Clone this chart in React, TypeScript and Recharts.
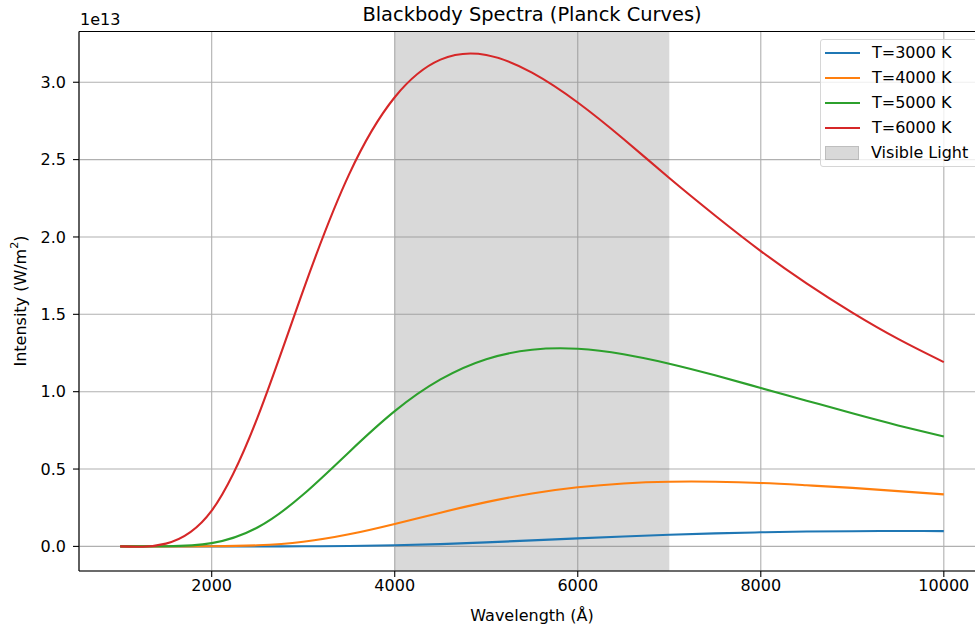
import { CartesianGrid, Label, Line, LineChart, ReferenceArea, ReferenceLine, XAxis, YAxis } from "recharts";

// wavelengths in Å, intensities in units of 1e13 W/m²
const wavelengths = [1000, 1500, 2000, 2500, 3000, 3500, 4000, 4500, 5000, 5500, 6000, 6500, 7000, 7500, 8000, 8500, 9000, 9500, 10000];
const t3000 = [0, 0, 0, 0, 0.0006, 0.0025, 0.0072, 0.015, 0.026, 0.039, 0.052, 0.064, 0.075, 0.084, 0.091, 0.096, 0.098, 0.0995, 0.099];
const t4000 = [0, 0, 0.0006, 0.007, 0.03, 0.078, 0.145, 0.218, 0.286, 0.342, 0.382, 0.407, 0.418, 0.418, 0.41, 0.395, 0.378, 0.357, 0.336];
const t5000 = [0, 0.0007, 0.021, 0.122, 0.335, 0.609, 0.874, 1.079, 1.21, 1.271, 1.277, 1.242, 1.181, 1.106, 1.024, 0.942, 0.86, 0.782, 0.71];
const t6000 = [0, 0.018, 0.231, 0.832, 1.655, 2.403, 2.903, 3.146, 3.176, 3.062, 2.869, 2.633, 2.381, 2.139, 1.909, 1.7, 1.511, 1.341, 1.191];

const xTicks = [2000, 4000, 6000, 8000, 10000];
const yTicks = [0, 0.5, 1, 1.5, 2, 2.5, 3];
const visible = [4000, 7000];

const data = wavelengths.map((x, i) => ({ x, t3000: t3000[i], t4000: t4000[i], t5000: t5000[i], t6000: t6000[i] }));

const series = [
  { key: "t3000", name: "T=3000 K", color: "#1f77b4" },
  { key: "t4000", name: "T=4000 K", color: "#ff7f0e" },
  { key: "t5000", name: "T=5000 K", color: "#2ca02c" },
  { key: "t6000", name: "T=6000 K", color: "#d62728" },
];

const FONT = "'DejaVu Sans', sans-serif";
const FS = 16;
const tickStyle = { fontSize: FS, fill: "#000", fontFamily: FONT };
const Y_MAX = 3.328;

export default function App() {
  return (
    <div style={{ position: "absolute", left: 0, top: 0, width: 975, height: 626, overflow: "hidden", background: "#fff", fontFamily: FONT }}>
      <div style={{ position: "absolute", left: 0, top: 4, width: 1064, textAlign: "center", fontSize: 19.4, lineHeight: "22px", color: "#000" }}>
        Blackbody Spectra (Planck Curves)
      </div>
      <div style={{ position: "absolute", left: 80, top: 10, fontSize: FS, lineHeight: "20px", color: "#000" }}>1e13</div>
      <LineChart width={990} height={626} data={data} margin={{ top: 31.5, right: 5, bottom: 0, left: 0 }}>
        <ReferenceArea x1={visible[0]} x2={visible[1]} fill="#808080" fillOpacity={0.3} stroke="none" />
        <CartesianGrid stroke="#b0b0b0" strokeWidth={1.1} />
        <XAxis
          type="number"
          dataKey="x"
          domain={[550, 10450]}
          ticks={xTicks}
          allowDataOverflow
          height={55}
          tick={tickStyle}
          tickSize={6}
          tickMargin={3}
          axisLine={{ stroke: "#000", strokeWidth: 1.1 }}
          tickLine={{ stroke: "#000", strokeWidth: 1.1 }}
        >
          <Label value="Wavelength (Å)" position="insideBottom" offset={5} style={{ fontSize: FS, fill: "#000", fontFamily: FONT }} />
        </XAxis>
        <YAxis
          type="number"
          domain={[-0.159, Y_MAX]}
          ticks={yTicks}
          allowDataOverflow
          width={79}
          tick={tickStyle}
          tickSize={6}
          tickMargin={7}
          tickFormatter={(v) => Number(v).toFixed(1)}
          axisLine={{ stroke: "#000", strokeWidth: 1.1 }}
          tickLine={{ stroke: "#000", strokeWidth: 1.1 }}
        >
          <Label
            content={() => (
              <text x={20} y={301} transform="rotate(-90 20 301)" textAnchor="middle" dominantBaseline="central" style={{ fontSize: FS, fill: "#000", fontFamily: FONT }}>
                <tspan>Intensity (W/m</tspan>
                <tspan dy={-6} style={{ fontSize: 11.2 }}>2</tspan>
                <tspan dy={6}>)</tspan>
              </text>
            )}
          />
        </YAxis>
        <ReferenceLine y={Y_MAX} stroke="#000" strokeWidth={1.1} ifOverflow="visible" />
        {series.map((s) => (
          <Line
            key={s.key}
            dataKey={s.key}
            name={s.name}
            type="natural"
            stroke={s.color}
            strokeWidth={2.1}
            dot={false}
            activeDot={false}
            isAnimationActive={false}
          />
        ))}
      </LineChart>
      <div
        style={{
          position: "absolute",
          left: 820,
          top: 39,
          width: 158,
          height: 128,
          boxSizing: "border-box",
          border: "1px solid #d6d6d6",
          borderRadius: 3,
          background: "rgba(255,255,255,0.8)",
          fontSize: FS,
          color: "#000",
        }}
      >
        {series.map((s) => (
          <div key={s.key} style={{ display: "flex", alignItems: "center", height: 25 }}>
            <div style={{ width: 35, height: 2, background: s.color, marginLeft: 4, marginRight: 12 }} />
            <span>{s.name}</span>
          </div>
        ))}
        <div style={{ display: "flex", alignItems: "center", height: 25 }}>
          <div style={{ width: 34, height: 14, background: "rgba(128,128,128,0.3)", border: "1px solid rgba(128,128,128,0.3)", marginLeft: 4, marginRight: 12, boxSizing: "border-box" }} />
          <span>Visible Light</span>
        </div>
      </div>
    </div>
  );
}
